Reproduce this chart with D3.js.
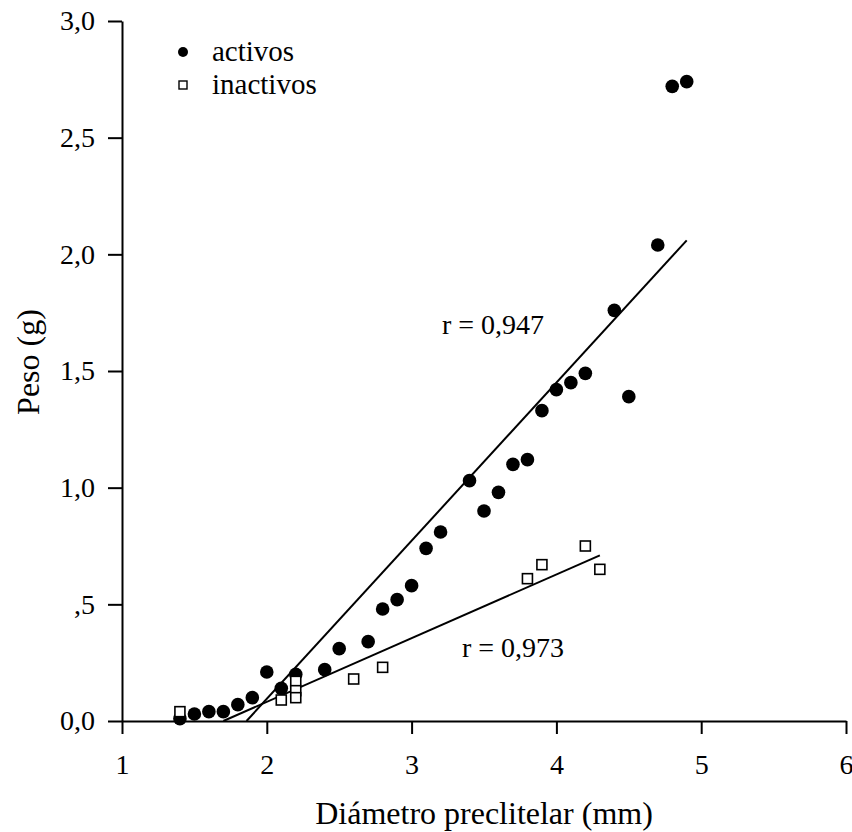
<!DOCTYPE html>
<html>
<head>
<meta charset="utf-8">
<script src="https://cdn.jsdelivr.net/npm/d3@7"></script>
<style>
  body { margin: 0; background: #fff; }
  svg text { font-family: "Liberation Serif", "Times New Roman", serif; fill: #000; }
</style>
</head>
<body>
<div id="chart"></div>
<script>
// activos (filled circles)
const activosX = [1.4, 1.5, 1.6, 1.7, 1.8, 1.9, 2.0, 2.1, 2.2, 2.4, 2.5, 2.7, 2.8, 2.9, 3.0, 3.1, 3.2, 3.4, 3.5, 3.6, 3.7, 3.8, 3.9, 4.0, 4.1, 4.2, 4.4, 4.5, 4.7, 4.8, 4.9];
const activosY = [0.01, 0.03, 0.04, 0.04, 0.07, 0.10, 0.21, 0.14, 0.20, 0.22, 0.31, 0.34, 0.48, 0.52, 0.58, 0.74, 0.81, 1.03, 0.90, 0.98, 1.10, 1.12, 1.33, 1.42, 1.45, 1.49, 1.76, 1.39, 2.04, 2.72, 2.74];

// inactivos (open squares)
const inactivosX = [1.4, 2.1, 2.2, 2.2, 2.2, 2.6, 2.8, 3.8, 3.9, 4.2, 4.3];
const inactivosY = [0.04, 0.09, 0.17, 0.13, 0.10, 0.18, 0.23, 0.61, 0.67, 0.75, 0.65];

// regression lines, end points
const activosFitX = [1.86, 4.9];
const activosFitY = [0, 2.06];
const inactivosFitX = [1.7, 4.3];
const inactivosFitY = [0, 0.71];

const xTicks = [1, 2, 3, 4, 5, 6];
const yTicks = [0, 0.5, 1, 1.5, 2, 2.5, 3];
const yTickLabels = ['0,0', ',5', '1,0', '1,5', '2,0', '2,5', '3,0'];

const seriesNames = ['activos', 'inactivos'];
const rLabels = ['r = 0,947', 'r = 0,973'];

const width = 852, height = 832;

const svg = d3.select('#chart').append('svg')
  .attr('width', width)
  .attr('height', height);

const x = d3.scaleLinear().domain([1, 6]).range([122, 846]);
const y = d3.scaleLinear().domain([0, 3]).range([721, 21]);

// axes
const xAxis = svg.append('g')
  .attr('transform', `translate(0,${y(0)})`)
  .call(d3.axisBottom(x).tickValues(xTicks).tickFormat(d3.format('d'))
    .tickSize(13).tickSizeOuter(0).tickPadding(20));

const yAxis = svg.append('g')
  .attr('transform', `translate(${x(1)},0)`)
  .call(d3.axisLeft(y).tickValues(yTicks).tickFormat((d, i) => yTickLabels[i])
    .tickSize(14).tickSizeOuter(0).tickPadding(13));

[xAxis, yAxis].forEach(a => {
  a.selectAll('path, line').attr('stroke', '#000').attr('stroke-width', 2);
  a.selectAll('text').style('font-size', '28px').style('font-family', '"Liberation Serif", serif');
});

// fit lines
const line = d3.line().x(d => x(d[0])).y(d => y(d[1]));
const fits = [
  d3.zip(activosFitX, activosFitY),
  d3.zip(inactivosFitX, inactivosFitY)
];
svg.append('g').selectAll('path')
  .data(fits)
  .enter().append('path')
  .attr('d', line)
  .attr('fill', 'none')
  .attr('stroke', '#000')
  .attr('stroke-width', 2);

// points
svg.append('g').selectAll('circle')
  .data(d3.zip(activosX, activosY))
  .enter().append('circle')
  .attr('cx', d => x(d[0]))
  .attr('cy', d => y(d[1]))
  .attr('r', 6.8)
  .attr('fill', '#000');

const sq = 10;
svg.append('g').selectAll('rect')
  .data(d3.zip(inactivosX, inactivosY))
  .enter().append('rect')
  .attr('x', d => x(d[0]) - sq / 2)
  .attr('y', d => y(d[1]) - sq / 2)
  .attr('width', sq)
  .attr('height', sq)
  .attr('fill', '#fff')
  .attr('stroke', '#000')
  .attr('stroke-width', 1.6);

// r labels
svg.append('text').attr('x', 442).attr('y', 334).style('font-size', '28px').text(rLabels[0]);
svg.append('text').attr('x', 462).attr('y', 657).style('font-size', '28px').text(rLabels[1]);

// legend
const leg = svg.append('g');
leg.append('circle').attr('cx', 183).attr('cy', 52).attr('r', 5).attr('fill', '#000');
leg.append('rect').attr('x', 179).attr('y', 81).attr('width', 8).attr('height', 8)
  .attr('fill', '#fff').attr('stroke', '#000').attr('stroke-width', 1.4);
leg.selectAll('text')
  .data(seriesNames)
  .enter().append('text')
  .attr('x', 212)
  .attr('y', (d, i) => 52 + i * 33)
  .attr('dy', '0.3em')
  .style('font-size', '29px')
  .text(d => d);

// axis titles
svg.append('text')
  .attr('x', (x(1) + x(6)) / 2)
  .attr('y', 824)
  .attr('text-anchor', 'middle')
  .style('font-size', '32px')
  .text('Diámetro preclitelar (mm)');

svg.append('text')
  .attr('transform', 'translate(39,362) rotate(-90)')
  .attr('text-anchor', 'middle')
  .style('font-size', '32px')
  .text('Peso (g)');
</script>
</body>
</html>
